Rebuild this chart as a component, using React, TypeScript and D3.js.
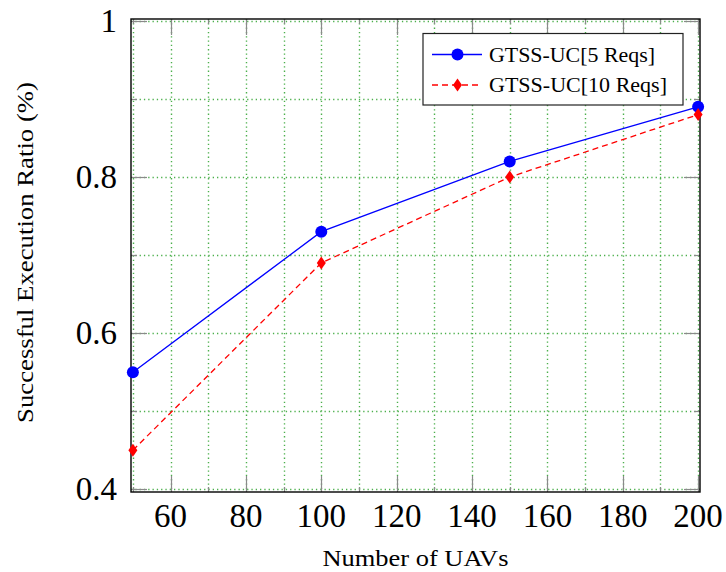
import { useEffect, useRef } from "react";
import * as d3 from "d3";

// values
const uavs = [50, 100, 150, 200];
const reqs5 = [0.55, 0.73, 0.82, 0.89];
const reqs10 = [0.45, 0.69, 0.8, 0.88];
const seriesNames = ["GTSS-UC[5 Reqs]", "GTSS-UC[10 Reqs]"];
const seriesColors = ["#0000ff", "#ff0000"];
const xLabelTicks = [60, 80, 100, 120, 140, 160, 180, 200];
const xGridTicks = [50, 60, 70, 80, 90, 100, 110, 120, 130, 140, 150, 160, 170, 180, 190, 200];
const yLabelTicks = [0.4, 0.6, 0.8, 1];
const yGridTicks = [0.4, 0.5, 0.6, 0.7, 0.8, 0.9, 1];

const W = 726;
const H = 572;
const font = "'Liberation Serif', 'DejaVu Serif', serif";

const App = () => {
  const svgRef = useRef<SVGSVGElement>(null);

  useEffect(() => {
    const svg = d3.select(svgRef.current);
    svg.selectAll("*").remove();

    const left = 131, right = 700, top = 19, bottom = 492;
    const x = d3.scaleLinear().domain([49.5, 200.5]).range([left, right]);
    const y = d3.scaleLinear().domain([0.3965, 1.0025]).range([bottom, top]);
    const px = (v: number) => Math.round(v) + 0.5;

    const g = svg.append("g");

    // dotted green grid
    g.selectAll(".vgrid")
      .data(xGridTicks)
      .join("line")
      .attr("x1", (d) => px(x(d))).attr("x2", (d) => px(x(d)))
      .attr("y1", top).attr("y2", bottom)
      .attr("stroke", "#4cb04c").attr("stroke-width", 1.4)
      .attr("stroke-dasharray", "1.3,3");
    g.selectAll(".hgrid")
      .data(yGridTicks)
      .join("line")
      .attr("x1", left).attr("x2", right)
      .attr("y1", (d) => px(y(d))).attr("y2", (d) => px(y(d)))
      .attr("stroke", "#4cb04c").attr("stroke-width", 1.4)
      .attr("stroke-dasharray", "1.3,3");

    // inward ticks on all four sides
    const tickCol = "#8a8a8a";
    xGridTicks.forEach((v) => {
      const len = xLabelTicks.includes(v) ? 16 : 5;
      g.append("line").attr("x1", px(x(v))).attr("x2", px(x(v))).attr("y1", bottom).attr("y2", bottom - len)
        .attr("stroke", tickCol).attr("stroke-width", 1.2);
      g.append("line").attr("x1", px(x(v))).attr("x2", px(x(v))).attr("y1", top).attr("y2", top + len)
        .attr("stroke", tickCol).attr("stroke-width", 1.2);
    });
    yGridTicks.forEach((v) => {
      const len = yLabelTicks.some((t) => Math.abs(t - v) < 1e-9) ? 16 : 6;
      g.append("line").attr("x1", left).attr("x2", left + len).attr("y1", px(y(v))).attr("y2", px(y(v)))
        .attr("stroke", tickCol).attr("stroke-width", 1.2);
      g.append("line").attr("x1", right).attr("x2", right - len).attr("y1", px(y(v))).attr("y2", px(y(v)))
        .attr("stroke", tickCol).attr("stroke-width", 1.2);
    });

    // frame
    g.append("rect")
      .attr("x", left).attr("y", top)
      .attr("width", right - left).attr("height", bottom - top)
      .attr("fill", "none").attr("stroke", "#000").attr("stroke-width", 1.4);

    // tick labels
    g.selectAll(".xl")
      .data(xLabelTicks)
      .join("text")
      .attr("x", (d) => x(d)).attr("y", 527)
      .attr("text-anchor", "middle")
      .attr("font-family", font).attr("font-size", 33)
      .text((d) => d);
    g.selectAll(".yl")
      .data(yLabelTicks)
      .join("text")
      .attr("x", 117).attr("y", (d) => y(d) + 11)
      .attr("text-anchor", "end")
      .attr("font-family", font).attr("font-size", 33)
      .text((d) => d3.format("~g")(d));

    // axis titles
    g.append("text")
      .attr("x", (left + right) / 2).attr("y", 566)
      .attr("text-anchor", "middle")
      .attr("font-family", font).attr("font-size", 23)
      .attr("textLength", 186).attr("lengthAdjust", "spacingAndGlyphs")
      .text("Number of UAVs");
    g.append("text")
      .attr("transform", `translate(33,252.5) rotate(-90)`)
      .attr("text-anchor", "middle")
      .attr("font-family", font).attr("font-size", 23)
      .attr("textLength", 341).attr("lengthAdjust", "spacingAndGlyphs")
      .text("Successful Execution Ratio (%)");

    // series
    const series = [reqs5, reqs10];
    const line = d3.line<[number, number]>().x((d) => x(d[0])).y((d) => y(d[1]));
    series.forEach((vals, i) => {
      const pts = uavs.map((u, j) => [u, vals[j]] as [number, number]);
      g.append("path")
        .datum(pts)
        .attr("fill", "none")
        .attr("stroke", seriesColors[i])
        .attr("stroke-width", 1.3)
        .attr("stroke-dasharray", i === 1 ? "6,4" : null)
        .attr("d", line);
    });
    const diamond = (cx: number, cy: number) =>
      `M${cx},${cy - 6.5}L${cx + 4.5},${cy}L${cx},${cy + 6.5}L${cx - 4.5},${cy}Z`;
    g.selectAll(".m5")
      .data(reqs5)
      .join("circle")
      .attr("cx", (_, j) => x(uavs[j])).attr("cy", (d) => y(d))
      .attr("r", 6).attr("fill", seriesColors[0]);
    g.selectAll(".m10")
      .data(reqs10)
      .join("path")
      .attr("d", (d, j) => diamond(x(uavs[j]), y(d)))
      .attr("fill", seriesColors[1]);

    // legend
    const legendWidths = [166, 178];
    const lg = g.append("g");
    lg.append("rect")
      .attr("x", 423).attr("y", 33.5)
      .attr("width", 260).attr("height", 71.5)
      .attr("fill", "#fff").attr("stroke", "#222").attr("stroke-width", 1.2);
    seriesNames.forEach((name, i) => {
      const ry = 54.5 + i * 30.5;
      lg.append("line")
        .attr("x1", 432).attr("x2", 482).attr("y1", ry).attr("y2", ry)
        .attr("stroke", seriesColors[i]).attr("stroke-width", 1.3)
        .attr("stroke-dasharray", i === 1 ? "6,4" : null);
      if (i === 0) {
        lg.append("circle").attr("cx", 457.5).attr("cy", ry).attr("r", 6).attr("fill", seriesColors[i]);
      } else {
        lg.append("path").attr("d", diamond(457.5, ry)).attr("fill", seriesColors[i]);
      }
      lg.append("text")
        .attr("x", 489).attr("y", ry + 7)
        .attr("font-family", font).attr("font-size", 20)
        .attr("textLength", legendWidths[i]).attr("lengthAdjust", "spacingAndGlyphs")
        .text(name);
    });
  }, []);

  return (
    <svg
      ref={svgRef}
      width={W}
      height={H}
      style={{ position: "absolute", left: 0, top: 0, background: "#fff" }}
    />
  );
};

export default App;
